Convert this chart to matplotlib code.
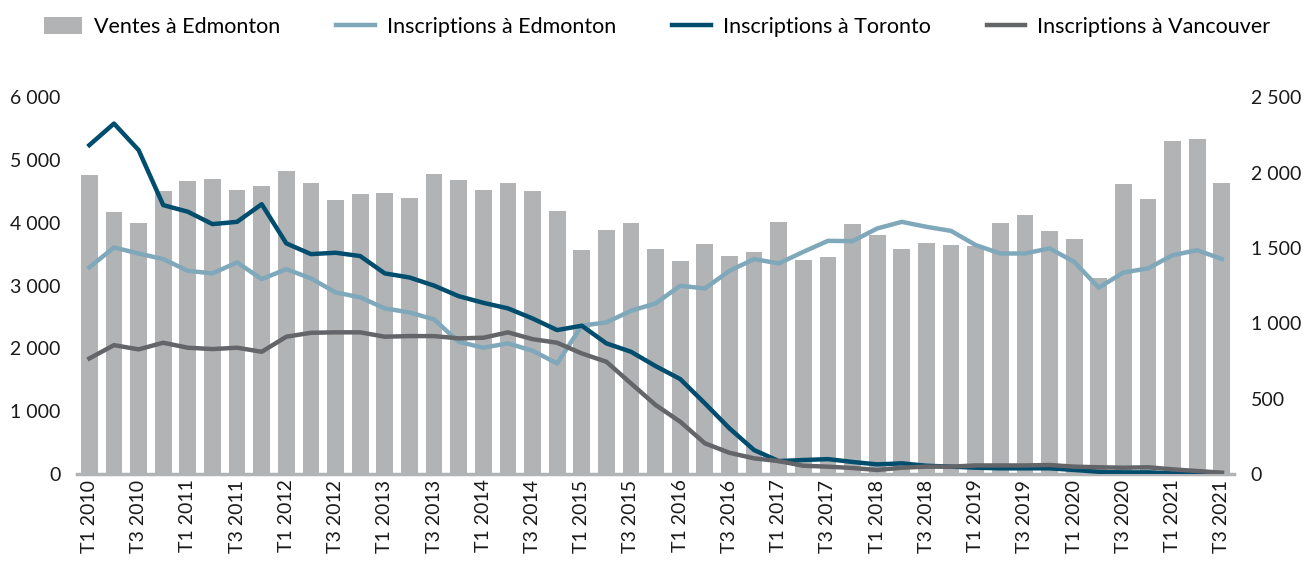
import numpy as np
import matplotlib.pyplot as plt
from matplotlib.ticker import FuncFormatter

plt.rcParams['font.family'] = ['Lato', 'DejaVu Sans']

years = list(range(2010, 2022))
quarters = [f"T{q} {y}" for y in years for q in range(1, 5)][:47]

# ventes trimestrielles (axe de gauche)
ventesEdmonton = [4760, 4175, 3990, 4505, 4670, 4705, 4530, 4585, 4820, 4630,
                  4360, 4455, 4470, 4390, 4775, 4680, 4530, 4635, 4505, 4180,
                  3565, 3885, 4000, 3585, 3390, 3655, 3470, 3530, 4005, 3405,
                  3450, 3975, 3805, 3580, 3675, 3650, 3635, 4000, 4120, 3875,
                  3745, 3120, 4610, 4375, 5295, 5330, 4630]

# inscriptions (axe de droite)
inscEdmonton = [1371, 1503, 1463, 1426, 1348, 1331, 1404, 1293, 1359, 1298,
                1205, 1172, 1099, 1072, 1026, 877, 838, 867, 818, 734,
                984, 1006, 1083, 1132, 1249, 1231, 1348, 1426, 1397, 1474,
                1547, 1545, 1629, 1673, 1640, 1613, 1519, 1463, 1463, 1497,
                1408, 1236, 1337, 1364, 1452, 1485, 1426]
inscToronto = [2182, 2325, 2149, 1784, 1740, 1658, 1673, 1790, 1530, 1459,
               1468, 1446, 1331, 1304, 1250, 1180, 1136, 1099, 1032, 955,
               984, 867, 811, 716, 630, 469, 303, 159, 86, 93,
               99, 80, 64, 71, 55, 49, 42, 38, 38, 38,
               27, 15, 11, 11, 5, 5, 5]
inscVancouver = [767, 855, 827, 871, 838, 829, 838, 811, 911, 937,
                 940, 940, 911, 915, 915, 900, 904, 940, 895, 871,
                 800, 745, 601, 458, 347, 204, 141, 104, 86, 55,
                 49, 40, 27, 42, 49, 49, 57, 57, 57, 60,
                 49, 45, 42, 45, 31, 20, 9]

def spaceThousands(v, pos):
    return f"{int(v):,}".replace(",", " ")

def main():
    x = np.arange(len(quarters))
    fig = plt.figure(figsize=(13.06, 5.65), dpi=100)
    ax = fig.add_axes([0.059, 0.161, 0.886, 0.667])
    ax2 = ax.twinx()

    barColor = '#b2b3b5'
    ax.bar(x, ventesEdmonton, width=0.68, color=barColor, label='Ventes à Edmonton')
    ax2.plot(x, inscEdmonton, color='#80a8bb', lw=3.2, label='Inscriptions à Edmonton')
    ax2.plot(x, inscToronto, color='#004d6e', lw=3.2, label='Inscriptions à Toronto')
    ax2.plot(x, inscVancouver, color='#636569', lw=3.2, label='Inscriptions à Vancouver')

    ax.set_xlim(-0.5, len(quarters) - 0.5)
    ax.set_ylim(0, 6000)
    ax2.set_ylim(0, 2500)
    ax.set_yticks(range(0, 6001, 1000))
    ax2.set_yticks(range(0, 2501, 500))
    ax.yaxis.set_major_formatter(FuncFormatter(spaceThousands))
    ax2.yaxis.set_major_formatter(FuncFormatter(spaceThousands))

    ax.set_xticks(x[::2])
    ax.set_xticklabels(quarters[::2], rotation=90)

    for a in (ax, ax2):
        for s in ['top', 'left', 'right', 'bottom']:
            a.spines[s].set_visible(False)
        a.tick_params(length=0, labelsize=14, colors='#1a1a1a')
    ax.tick_params(axis='y', pad=12)
    ax2.tick_params(axis='y', pad=12)
    ax.tick_params(axis='x', pad=4)
    ax.axhline(0, color='#b2b3b5', lw=2.5, zorder=5, clip_on=False)

    h1, l1 = ax.get_legend_handles_labels()
    h2, l2 = ax2.get_legend_handles_labels()
    fig.legend(h1 + h2, l1 + l2, loc='upper center', bbox_to_anchor=(0.503, 1.005),
               ncol=4, frameon=False, fontsize=15.5, handlelength=1.8,
               handleheight=0.9, columnspacing=2.6, handletextpad=0.55)

    fig.savefig('out.png', dpi=100)

if __name__ == "__main__":
    main()
